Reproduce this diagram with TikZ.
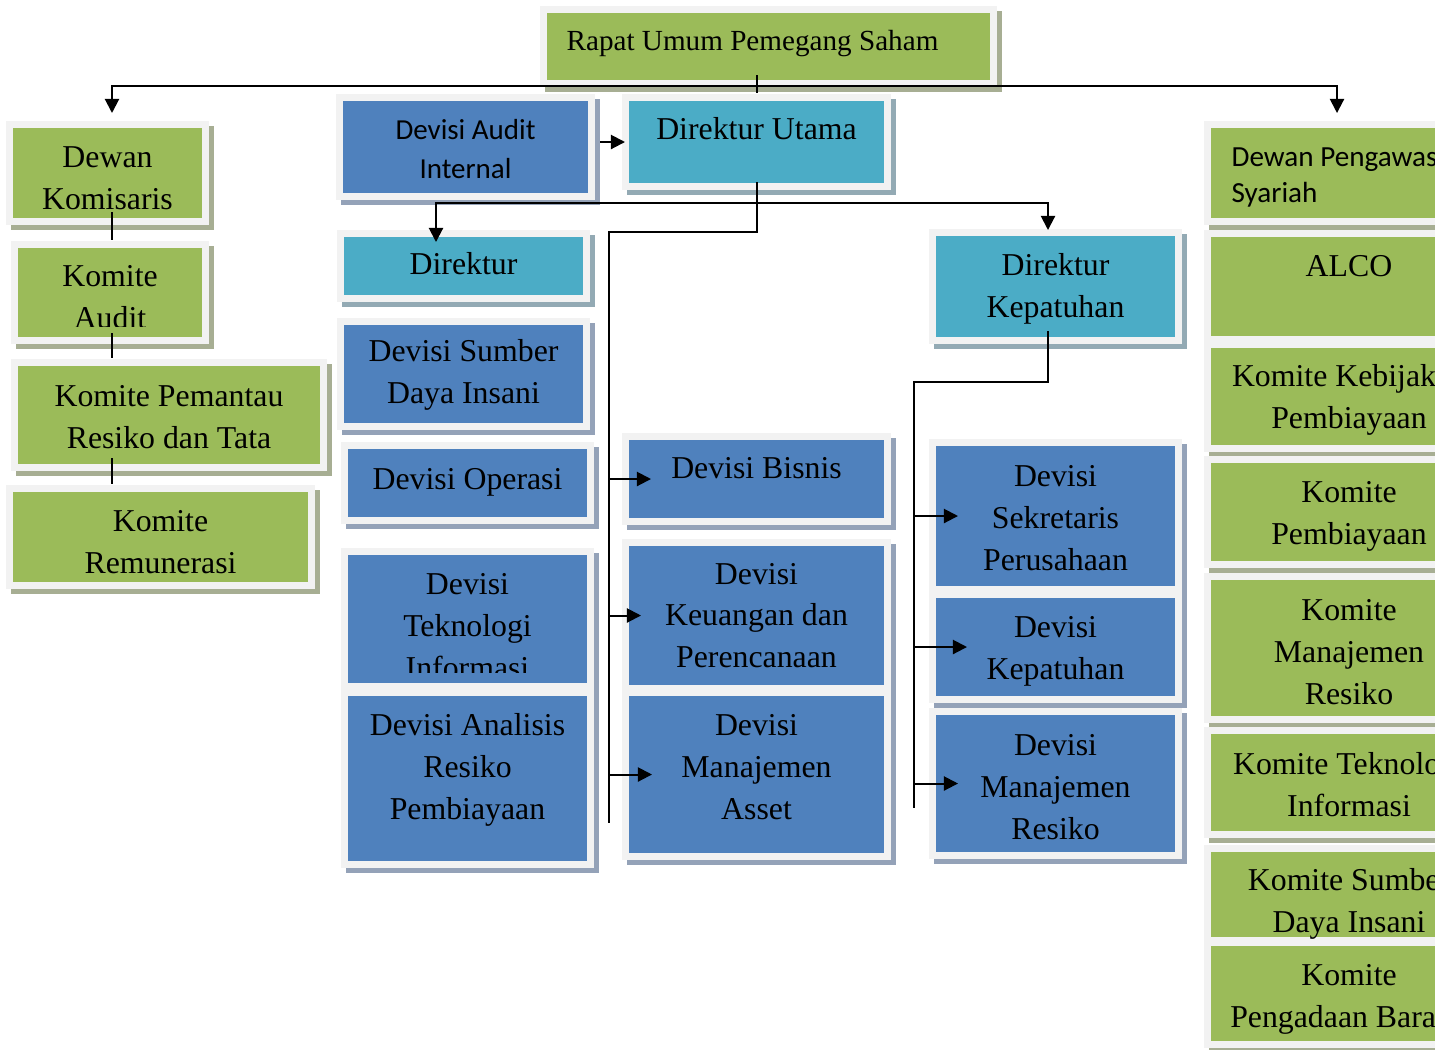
\documentclass[tikz,border=0pt]{standalone}
\usepackage{fontspec}
\setmainfont{Liberation Serif}
\newfontfamily\calibri{Carlito}
\usetikzlibrary{arrows.meta, shadows}

\definecolor{boxgreen}{RGB}{155,187,89}
\definecolor{boxteal}{RGB}{75,172,198}
\definecolor{boxblue}{RGB}{79,129,189}
\definecolor{framegray}{RGB}{242,242,242}
\definecolor{shadegreen}{RGB}{167,174,147}
\definecolor{shadeteal}{RGB}{147,170,180}
\definecolor{shadeblue}{RGB}{148,162,184}

\newdimen\pxu \pxu=0.02cm
\newcommand{\bodyfont}{\fontsize{18.1}{23.8}\selectfont}
\newcommand{\boxtext}[2][0pt]{\raisebox{#1}[\height][\depth]{\begin{tabular}{@{}c@{}}#2\end{tabular}}}

\begin{document}
\begin{tikzpicture}[
    x=0.02cm, y=-0.02cm,
    orgbox/.style={rectangle, draw=framegray, line width=7\pxu, inner sep=0pt, font=\bodyfont},
    greenbox/.style={orgbox, fill=boxgreen, drop shadow={shadow xshift=5\pxu, shadow yshift=-5\pxu, fill=shadegreen, draw=shadegreen, line width=7\pxu, opacity=1}},
    tealbox/.style={orgbox, fill=boxteal, drop shadow={shadow xshift=5\pxu, shadow yshift=-5\pxu, fill=shadeteal, draw=shadeteal, line width=7\pxu, opacity=1}},
    bluebox/.style={orgbox, fill=boxblue, drop shadow={shadow xshift=5\pxu, shadow yshift=-5\pxu, fill=shadeblue, draw=shadeblue, line width=7\pxu, opacity=1}},
    boxlabel/.style={draw=none, fill=none, inner sep=0pt, font=\bodyfont},
    conn/.style={draw=black, line width=2\pxu},
    arrow/.style={conn, -{Triangle[length=8pt, width=8pt]}}
]
\useasboundingbox (0,0) rectangle (1435,1049);

% Top
\node[greenbox, font=\fontsize{16.6}{21}\selectfont, minimum width=450\pxu, minimum height=74\pxu] (rups) at (768.5,46.5) {\boxtext[3\pxu]{Rapat Umum Pemegang Saham}\rule{32\pxu}{0pt}};

% Komite column (left)
\node[greenbox, minimum width=196\pxu, minimum height=97\pxu] (dk) at (107.5,173) {\boxtext[-7\pxu]{Dewan\\Komisaris}};
\node[greenbox, minimum width=191\pxu, minimum height=96\pxu] (ka) at (110,292.5) {};
\begin{scope}
  \clip (ka.north west) rectangle ([yshift=17.5\pxu]ka.south east);
  \node[boxlabel] (ka-text) at (ka) {\boxtext[-7\pxu]{Komite\\Audit}};
\end{scope}
\node[greenbox, minimum width=309\pxu, minimum height=105\pxu] (kp) at (169,415) {\boxtext[-4\pxu]{Komite Pemantau\\Resiko dan Tata}};
\node[greenbox, minimum width=302\pxu, minimum height=97\pxu] (kr) at (160.5,537) {\boxtext[-7\pxu]{Komite\\Remunerasi}};

% Direksi
\node[bluebox, font=\calibri\fontsize{16.5}{22.7}\selectfont, minimum width=252\pxu, minimum height=99\pxu] (dai) at (465.5,147) {\boxtext[-4\pxu]{Devisi Audit\\Internal}};
\node[tealbox, minimum width=262\pxu, minimum height=89\pxu] (dirut) at (756.5,142) {\boxtext[11\pxu]{Direktur Utama}};
\node[tealbox, minimum width=246\pxu, minimum height=65\pxu] (dir) at (463.5,266) {\boxtext{Direktur}};
\node[tealbox, minimum width=246\pxu, minimum height=108\pxu] (dkp) at (1055.5,286.5) {\boxtext[-2\pxu]{Direktur\\Kepatuhan}};

% Devisi under Direktur
\node[bluebox, minimum width=246\pxu, minimum height=105\pxu] (sdi) at (463.5,374) {\boxtext{Devisi Sumber\\Daya Insani}};
\node[bluebox, minimum width=246\pxu, minimum height=75\pxu] (ops) at (467.5,483) {\boxtext[2\pxu]{Devisi Operasi}};
\node[bluebox, minimum width=246\pxu, minimum height=135\pxu] (dti) at (467.5,619) {};
\begin{scope}
  \clip (dti.north west) rectangle ([yshift=17.5\pxu]dti.south east);
  \node[boxlabel] (dti-text) at (dti) {\boxtext[-9\pxu]{Devisi\\Teknologi\\Informasi}};
\end{scope}
\node[bluebox, minimum width=246\pxu, minimum height=172\pxu] (dar) at (467.5,778.5) {\boxtext[9.5\pxu]{Devisi Analisis\\Resiko\\Pembiayaan}};

% Devisi under Direktur Utama
\node[bluebox, minimum width=262\pxu, minimum height=85\pxu] (bisnis) at (756.5,479) {\boxtext[9\pxu]{Devisi Bisnis}};
\node[bluebox, minimum width=262\pxu, minimum height=146\pxu] (keu) at (756.5,615.5) {\boxtext[-2\pxu]{Devisi\\Keuangan dan\\Perencanaan}};
\node[bluebox, minimum width=262\pxu, minimum height=164\pxu] (asset) at (756.5,774.5) {\boxtext[5.5\pxu]{Devisi\\Manajemen\\Asset}};

% Devisi under Direktur Kepatuhan
\node[bluebox, minimum width=246\pxu, minimum height=147\pxu] (sek) at (1055.5,516) {\boxtext[-4\pxu]{Devisi\\Sekretaris\\Perusahaan}};
\node[bluebox, minimum width=246\pxu, minimum height=105\pxu] (dkep) at (1055.5,647) {\boxtext[-3\pxu]{Devisi\\Kepatuhan}};
\node[bluebox, minimum width=246\pxu, minimum height=144\pxu] (dmr) at (1055.5,783.5) {\boxtext[-5.5\pxu]{Devisi\\Manajemen\\Resiko}};

% Komite column (right)
\node[greenbox, font=\calibri\fontsize{16.6}{20.4}\selectfont, minimum width=283\pxu, minimum height=97\pxu] (dps) at (1349,173) {\raisebox{-4\pxu}[\height][\depth]{\begin{tabular}{@{}l@{}}Dewan Pengawas\\Syariah\end{tabular}}\rule{29\pxu}{0pt}};
\node[greenbox, minimum width=283\pxu, minimum height=106\pxu] (alco) at (1349,286.5) {\boxtext[18.5\pxu]{ALCO}};
\node[greenbox, minimum width=283\pxu, minimum height=104\pxu] (kkp) at (1349,396.5) {\boxtext[-2.5\pxu]{Komite Kebijakan\\Pembiayaan}};
\node[greenbox, minimum width=283\pxu, minimum height=105\pxu] (kpb) at (1349,512) {\boxtext[-3\pxu]{Komite\\Pembiayaan}};
\node[greenbox, minimum width=283\pxu, minimum height=143\pxu] (kmr) at (1349,648) {\boxtext[-6\pxu]{Komite\\Manajemen\\Resiko}};
\node[greenbox, minimum width=283\pxu, minimum height=104\pxu] (kti) at (1349,782.5) {\boxtext[-4.5\pxu]{Komite Teknologi\\Informasi}};
\node[greenbox, minimum width=283\pxu, minimum height=92\pxu] (ksdi) at (1349,894.5) {\boxtext[-8.5\pxu]{Komite Sumber\\Daya Insani}};
\node[greenbox, minimum width=283\pxu, minimum height=102\pxu] (kpbj) at (1349,993.5) {\boxtext[-4.5\pxu]{Komite\\Pengadaan Barang}};

% Bus points
\coordinate (topbus) at (757,86);
\coordinate (kline) at (112,0);
\coordinate (sline) at (1337,0);
\coordinate (dirbus) at (757,203);
\coordinate (dirl) at (436,0);
\coordinate (dkpl) at (1048,0);
\coordinate (opsbus) at (609,232);
\coordinate (opsend) at (609,823);
\coordinate (kepturn) at (1048,382);
\coordinate (kepend) at (914,808);

% Connectors
\draw[conn, shorten <=-12\pxu, shorten >=1\pxu] (dirut.north |- rups.south) -- (dirut.north);
\draw[arrow, shorten >=8\pxu] (topbus) -| (kline |- dk.north);
\draw[arrow, shorten >=8\pxu] (topbus) -| (sline |- dps.north);
\draw[conn, shorten <=-13\pxu, shorten >=1\pxu] (kline |- dk.south) -- (kline |- ka.north);
\draw[conn, shorten <=-11\pxu, shorten >=1\pxu] (kline |- ka.south) -- (kline |- kp.north);
\draw[conn, shorten <=-13\pxu, shorten >=1\pxu] (kline |- kp.south) -- (kline |- kr.north);
\draw[arrow, shorten <=5\pxu, shorten >=-3\pxu] (dirut.west -| dai.east) -- (dirut.west);
\draw[conn, shorten <=-8\pxu] (dirut.south) |- (opsbus) -- (opsend);
\draw[arrow, shorten >=-12\pxu] (dirbus) -| (dirl |- dir.north);
\draw[arrow, shorten >=-1\pxu] (dirbus) -| (dkpl |- dkp.north);
\draw[arrow, shorten >=-29\pxu] (opsend |- bisnis.west) -- (bisnis.west);
\draw[arrow, shorten >=-19\pxu] (opsend |- keu.west) -- (keu.west);
\draw[arrow, shorten >=-30\pxu] (opsend |- asset.west) -- (asset.west);
\draw[conn, shorten <=-13\pxu] (kepturn |- dkp.south) -- (kepturn) -| (kepend);
\draw[arrow, shorten >=-29\pxu] (kepend |- sek.west) -- (sek.west);
\draw[arrow, shorten >=-38\pxu] (kepend |- dkep.west) -- (dkep.west);
\draw[arrow, shorten >=-29\pxu] (kepend |- dmr.west) -- (dmr.west);

\end{tikzpicture}
\end{document}
